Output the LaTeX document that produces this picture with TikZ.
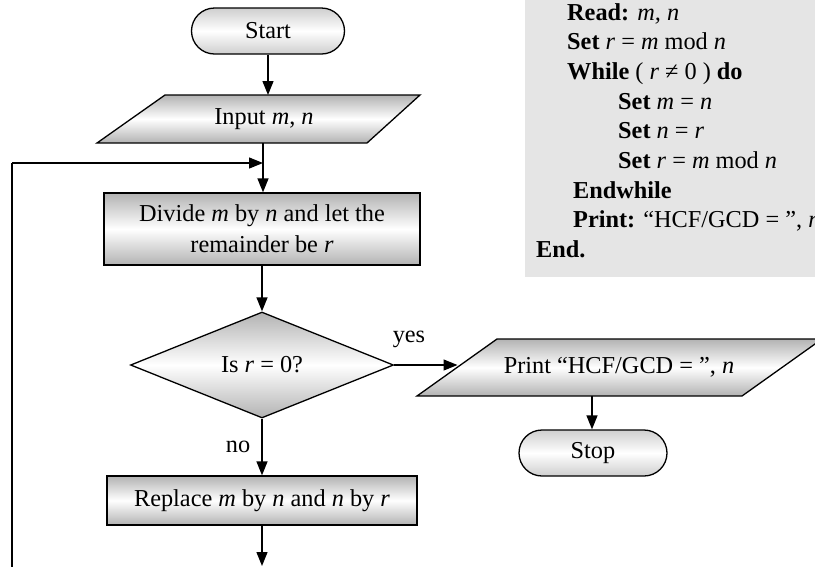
\documentclass[tikz,border=0pt]{standalone}
\usepackage{fontspec}
\setmainfont{Liberation Serif}
\usetikzlibrary{arrows.meta,shapes.geometric,shapes.misc}
\begin{document}
\begin{tikzpicture}[x=1pt,y=-1pt,
  font=\fontsize{24.3}{31}\selectfont,
  ln/.style={line width=1.3pt},
  arr/.style={line width=1.3pt,-{Triangle[length=14pt,width=11pt]}},
  shd/.style={top color=gray!60,bottom color=gray!60,middle color=white},
  termbox/.style={rounded rectangle,draw,line width=1.3pt,minimum width=153pt,minimum height=46pt,inner sep=0pt,top color=gray!38,bottom color=gray!38,middle color=white},
  procbox/.style={rectangle,draw,line width=1.3pt,inner sep=0pt,shd},
  decbox/.style={diamond,draw,line width=1.3pt,minimum width=263pt,minimum height=106pt,inner sep=0pt,shd},
  txt/.style={inner sep=0pt},
  code/.style={anchor=base west,inner sep=0pt}
]
\useasboundingbox (0,0) rectangle (815,566);
\clip (0,0) rectangle (815,566);

% pseudocode panel
\fill[gray!20] (525,-5) rectangle (830,277);
\node[code] (c1) at (567,20) {\textbf{Read:} \textit{m, n}};
\node[code] (c2) at (567,49.7) {\textbf{Set} \textit{r} = \textit{m} mod \textit{n}};
\node[code] (c3) at (567,79.4) {\textbf{While} ( \textit{r} ≠ 0 ) \textbf{do}};
\node[code] (c4) at (618,109.1) {\textbf{Set} \textit{m} = \textit{n}};
\node[code] (c5) at (618,138.8) {\textbf{Set} \textit{n} = \textit{r}};
\node[code] (c6) at (618,168.5) {\textbf{Set} \textit{r} = \textit{m} mod \textit{n}};
\node[code] (c7) at (573,198.2) {\textbf{Endwhile}};
\node[code] (c8) at (573,227.9) {\textbf{Print:} “HCF/GCD = ”, \textit{n}};
\node[code] (c9) at (536,257.6) {\textbf{End.}};

% start
\node[termbox] (start) at (268,31) {Start};

% input parallelogram
\coordinate (i1) at (165,95);
\coordinate (i2) at (420,95);
\coordinate (i3) at (367,143);
\coordinate (i4) at (97,143);
\path[draw,ln,shd] (i1) -- (i2) -- (i3) -- (i4) -- cycle;
\node[txt,minimum height=48pt] (input) at (264,119) {Input \textit{m}, \textit{n}};
\coordinate (inTop) at (268,95);

% divide box
\node[procbox,minimum width=316pt,minimum height=72pt,align=center] (divide) at (262,229)
  {Divide \textit{m} by \textit{n} and let the\\remainder be \textit{r}};

% decision
\node[decbox] (dec) at (262,365) {Is \textit{r} = 0?};

% replace box
\node[procbox,minimum width=310pt,minimum height=49pt] (repl) at (262,500.5)
  {Replace \textit{m} by \textit{n} and \textit{n} by \textit{r}};

% print parallelogram
\coordinate (p1) at (497,339);
\coordinate (p2) at (822,339);
\coordinate (p3) at (742,396);
\coordinate (p4) at (417,396);
\path[draw,ln,shd] (p1) -- (p2) -- (p3) -- (p4) -- cycle;
\node[txt,minimum height=57pt] (print) at (619,367.5) {Print “HCF/GCD = ”, \textit{n}};
\coordinate (pIn) at (457.5,365);
\coordinate (pBot) at (592,396);

% stop
\node[termbox,minimum width=148pt] (stop) at (593,453) {Stop};

% labels
\node[txt] (yes) at (409,339) {yes};
\node[txt] (no) at (238,447) {no};

% connectors
\draw[arr] (start.south) -- (inTop);
\coordinate (inBot) at (263,143);
\coordinate (join) at (263,163);
\draw[ln] (inBot) -- (join);
\draw[arr] (join) -- (divide.north -| join);
\draw[arr] (divide.south) -- (dec.north);
\draw[arr] (dec.south) -- (repl.north);
\draw[arr] (dec.east) -- (pIn);
\draw[arr] (pBot) -- (pBot |- stop.north);
\coordinate (out) at (262,566);
\draw[arr] (repl.south) -- (out);
\coordinate (lb) at (12,570);
\coordinate (lt) at (12,163);
\draw[ln] (lb) -- (lt);
\draw[arr] (lt) -- (join);
\end{tikzpicture}
\end{document}
